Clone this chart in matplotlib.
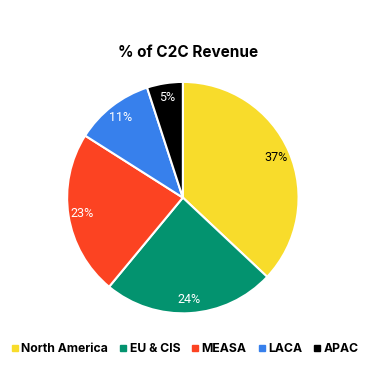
import matplotlib.pyplot as plt
from matplotlib.lines import Line2D

regions = ['North America', 'EU & CIS', 'MEASA', 'LACA', 'APAC']
shares = [37, 24, 23, 11, 5]
colors = ['#F8DC2B', '#03936F', '#FC4322', '#3780EC', '#000000']
label_colors = ['black', 'white', 'white', 'white', 'white']

fig = plt.figure(figsize=(3.77, 3.67), dpi=100)
ax = fig.add_axes([0.175, 0.143, 0.62, 0.637])

wedges, texts, autotexts = ax.pie(
    shares, colors=colors, startangle=90, counterclock=False,
    autopct='%d%%', pctdistance=0.88,
    wedgeprops=dict(edgecolor='white', linewidth=1.5),
    textprops=dict(fontsize=9, family='Roboto'))
for t, c in zip(autotexts, label_colors):
    t.set_color(c)
ax.set_xlim(-1.01, 1.01)
ax.set_ylim(-1.01, 1.01)
ax.set_aspect('equal')

fig.text(0.5, 0.858, '% of C2C Revenue', ha='center', va='center',
         fontsize=11, fontweight='bold', family='Inter')

handles = [Line2D([], [], marker='s', linestyle='', markersize=5,
                  markerfacecolor=c, markeredgecolor=c) for c in colors]
fig.legend(handles, regions, loc='center', bbox_to_anchor=(0.49, 0.048),
           ncol=5, frameon=False, handletextpad=0.15, columnspacing=0.9,
           handlelength=0.7, prop=dict(family='Inter', weight='bold', size=8.8))

fig.savefig('out.png', dpi=100)
